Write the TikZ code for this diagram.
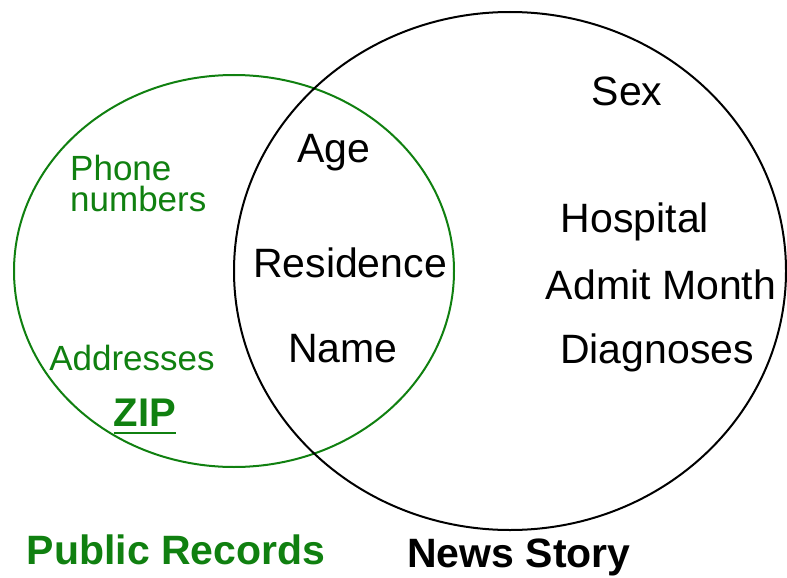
\documentclass[tikz,border=0pt]{standalone}
\usepackage{fontspec}
\setmainfont{Liberation Sans}
\definecolor{recgreen}{RGB}{16,128,16}
\tikzset{
  ring/.style={line width=2pt},
  blackitem/.style={font=\fontsize{41}{44}\selectfont, anchor=base, inner sep=0pt},
  greenitem/.style={font=\fontsize{35}{31}\selectfont, text=recgreen, anchor=base, inner sep=0pt},
  setname/.style={font=\fontsize{41}{44}\selectfont\bfseries, anchor=base, inner sep=0pt},
}
\begin{document}
\begin{tikzpicture}[x=1pt,y=-1pt]
      \useasboundingbox (0,0) rectangle (787,578);

      % the two sets
      \coordinate (pubc) at (234,271);
      \coordinate (newsc) at (510,271);
      \draw[ring,recgreen] (pubc) ellipse [x radius=220, y radius=196];
      \draw[ring,black] (newsc) ellipse [x radius=276, y radius=259];

      % public records only
      \node[greenitem, align=left, anchor=north west] (phone) at (70,155) {Phone\\numbers};
      \node[greenitem] (addr) at (132,370) {Addresses};
      \node[setname, text=recgreen, font=\fontsize{40}{42}\selectfont\bfseries] (zip) at (145,426) {ZIP};
      \draw[recgreen, line width=2.5pt] ([yshift=-7pt]zip.base west) -- ([yshift=-7pt]zip.base east);

      % both
      \node[blackitem] (age) at (334,162) {Age};
      \node[blackitem] (res) at (350,277) {Residence};
      \node[blackitem] (name) at (343,362) {Name};

      % news story only
      \node[blackitem] (sex) at (627,106) {Sex};
      \node[blackitem] (hosp) at (635,232) {Hospital};
      \node[blackitem] (month) at (661,299) {Admit Month};
      \node[blackitem] (diag) at (657,363) {Diagnoses};

      % set titles
      \node[setname, text=recgreen] (pubname) at (176,564) {Public Records};
      \node[setname] (newsname) at (519,567) {News Story};
    \end{tikzpicture}
\end{document}
